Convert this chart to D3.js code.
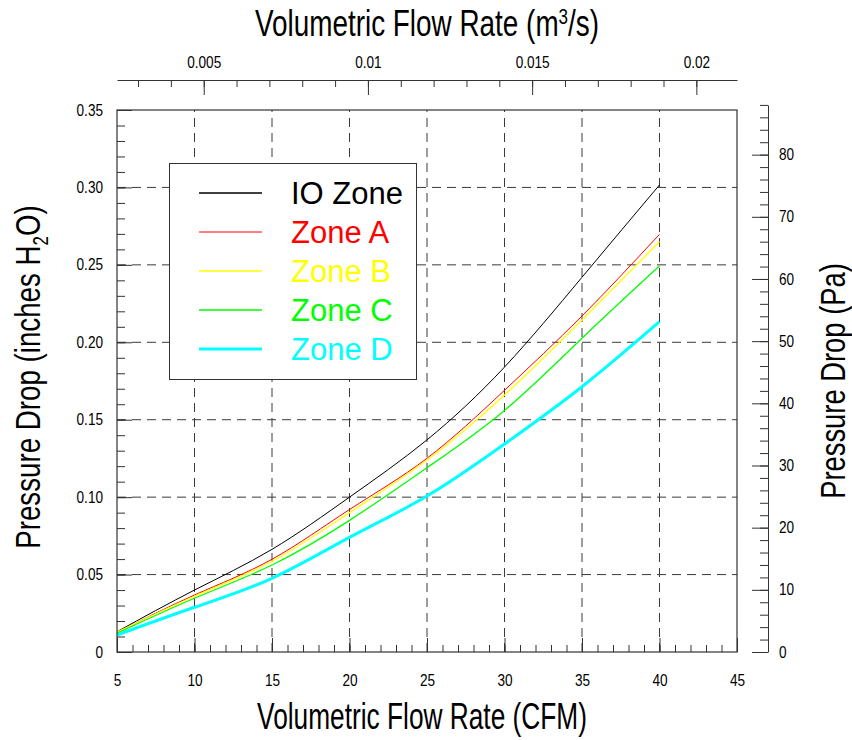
<!DOCTYPE html>
<html>
<head>
<meta charset="utf-8">
<script src="https://cdn.jsdelivr.net/npm/d3@7"></script>
<style>
  html, body { margin: 0; padding: 0; background: #fff; }
  svg { display: block; }
  text { font-family: "Liberation Sans", Arial, sans-serif; }
</style>
</head>
<body>
<svg id="chart" width="852" height="740"></svg>
<script>
// ---------------- data ----------------
const flowCFM = [5, 10, 15, 20, 25, 30, 35, 40];
const ioZone  = [0.0131, 0.0400, 0.0663, 0.1000, 0.1370, 0.1840, 0.2420, 0.3016];
const zoneA   = [0.0125, 0.0368, 0.0599, 0.0920, 0.1251, 0.1690, 0.2170, 0.2697];
const zoneB   = [0.0128, 0.0360, 0.0586, 0.0900, 0.1240, 0.1660, 0.2144, 0.2650];
const zoneC   = [0.0121, 0.0347, 0.0562, 0.0850, 0.1190, 0.1560, 0.2026, 0.2493];
const zoneD   = [0.0110, 0.0289, 0.0476, 0.0740, 0.1007, 0.1343, 0.1713, 0.2133];

const seriesNames  = ["IO Zone", "Zone A", "Zone B", "Zone C", "Zone D"];
const seriesColors = ["#000000", "#ff0000", "#ffff00", "#00ff00", "#00ffff"];
const seriesWidths = [1, 1, 1.3, 1.3, 3];

const xTickValues   = [5, 10, 15, 20, 25, 30, 35, 40, 45];
const yTickValues   = [0, 0.05, 0.10, 0.15, 0.20, 0.25, 0.30, 0.35];
const yTickLabels   = ["0", "0.05", "0.10", "0.15", "0.20", "0.25", "0.30", "0.35"];
const paTickValues  = [0, 10, 20, 30, 40, 50, 60, 70, 80];
const topTickValues = [0.005, 0.010, 0.015, 0.020];
const topTickLabels = ["0.005", "0.01", "0.015", "0.02"];

const CFM_TO_M3S = 0.000471947;
const INH2O_TO_PA = 249.089;

// ---------------- layout ----------------
const svg = d3.select("#chart");
const L = 117, R = 737, T = 110, B = 652;

const x = d3.scaleLinear().domain([5, 45]).range([L, R]);
const y = d3.scaleLinear().domain([0, 0.35]).range([B, T]);
const yPa = d3.scaleLinear().domain([0, 88]).range([B, y(88 / INH2O_TO_PA)]);
const xTop = d3.scaleLinear().domain([5 * CFM_TO_M3S, 45 * CFM_TO_M3S]).range([L, R]);

const frameColor = "#333";
const labelScale = 0.85;
const labelSize = 16;

function condenseLabels(sel, sx) {
  sel.selectAll("text").each(function () {
    const t = d3.select(this);
    const tx = +t.attr("x") || 0, ty = +t.attr("y") || 0;
    t.attr("x", 0).attr("y", 0)
     .attr("transform", `translate(${tx},${ty}) scale(${sx},1)`);
  });
}
function styleLabels(g) {
  g.selectAll("text").attr("font-size", labelSize).attr("fill", "#000")
    .attr("font-family", "Liberation Sans, Arial, sans-serif");
}

// ---------------- grid ----------------
const grid = svg.append("g").attr("stroke", "#3a3a3a").attr("stroke-width", 1)
  .attr("stroke-dasharray", "9,6");
grid.selectAll("line.v").data(xTickValues.filter(v => v > 5 && v < 45)).join("line")
  .attr("x1", d => x(d)).attr("x2", d => x(d)).attr("y1", B).attr("y2", T);
grid.selectAll("line.h").data(yTickValues.filter(v => v > 0 && v < 0.35)).join("line")
  .attr("x1", L).attr("x2", R).attr("y1", d => y(d)).attr("y2", d => y(d));

// ---------------- legend ----------------
const legend = svg.append("g");
legend.append("rect").attr("x", 169.5).attr("y", 163.5).attr("width", 247).attr("height", 216)
  .attr("fill", "#fff").attr("stroke", frameColor).attr("stroke-width", 1);
seriesNames.forEach((name, i) => {
  const ly = 193 + i * 39;
  legend.append("line").attr("x1", 199).attr("x2", 262).attr("y1", ly).attr("y2", ly)
    .attr("stroke", seriesColors[i]).attr("stroke-width", i === 0 ? 1.4 : seriesWidths[i]);
  legend.append("text").attr("x", 291).attr("y", ly + 11)
    .attr("font-size", 31).attr("fill", seriesColors[i]).text(name);
});

// ---------------- curves ----------------
const allSeries = [ioZone, zoneA, zoneB, zoneC, zoneD];
const line = d3.line().x((d, i) => x(flowCFM[i])).y(d => y(d)).curve(d3.curveNatural);
svg.append("g").selectAll("path").data(allSeries).join("path")
  .attr("d", d => line(d)).attr("fill", "none")
  .attr("stroke", (d, i) => seriesColors[i]).attr("stroke-width", (d, i) => seriesWidths[i]);

// ---------------- axes ----------------
// bottom minor ticks
svg.append("g").attr("transform", `translate(0,${B})`)
  .call(d3.axisBottom(x).tickValues(d3.range(5, 46, 1)).tickSize(-7).tickFormat(""))
  .call(g => g.select(".domain").remove())
  .call(g => g.selectAll("line").attr("stroke", frameColor));
// bottom major ticks + labels
const bottomAxis = svg.append("g").attr("transform", `translate(0,${B})`)
  .call(d3.axisBottom(x).tickValues(xTickValues).tickSize(-14).tickPadding(23).tickFormat(d3.format("d")))
  .call(g => g.select(".domain").remove())
  .call(g => g.selectAll("line").attr("stroke", frameColor))
  .call(styleLabels);
condenseLabels(bottomAxis, labelScale);

// left minor ticks
svg.append("g").attr("transform", `translate(${L},0)`)
  .call(d3.axisLeft(y).tickValues(d3.range(0, 0.351, 0.01)).tickSize(-8).tickFormat(""))
  .call(g => g.select(".domain").remove())
  .call(g => g.selectAll("line").attr("stroke", frameColor));
// left major ticks + labels
const leftAxis = svg.append("g").attr("transform", `translate(${L},0)`)
  .call(d3.axisLeft(y).tickValues(yTickValues).tickSize(-15).tickPadding(14)
    .tickFormat((d, i) => yTickLabels[i]))
  .call(g => g.select(".domain").remove())
  .call(g => g.selectAll("line").attr("stroke", frameColor))
  .call(styleLabels);
condenseLabels(leftAxis, labelScale);

// right (Pa) axis
const PA_X = 768;
svg.append("g").attr("transform", `translate(${PA_X},0)`)
  .call(d3.axisRight(yPa).tickValues(d3.range(0, 89, 2)).tickSizeInner(-8).tickSizeOuter(0).tickFormat(""))
  .call(g => g.selectAll("line, path").attr("stroke", frameColor));
const rightAxis = svg.append("g").attr("transform", `translate(${PA_X},0)`)
  .call(d3.axisRight(yPa).tickValues(paTickValues).tickSizeInner(-16).tickSizeOuter(0).tickPadding(11)
    .tickFormat(d3.format("d")))
  .call(g => g.select(".domain").remove())
  .call(g => g.selectAll("line").attr("stroke", frameColor))
  .call(styleLabels);
condenseLabels(rightAxis, labelScale);

// top (m3/s) axis
const TOP_Y = 80;
svg.append("g").attr("transform", `translate(0,${TOP_Y})`)
  .call(d3.axisTop(xTop).tickValues(d3.range(3, 21, 1).map(v => v / 1000)).tickSizeInner(-7).tickSizeOuter(0).tickFormat(""))
  .call(g => g.selectAll("line, path").attr("stroke", frameColor));
const topAxis = svg.append("g").attr("transform", `translate(0,${TOP_Y})`)
  .call(d3.axisTop(xTop).tickValues(topTickValues).tickSizeInner(-15).tickSizeOuter(0).tickPadding(12)
    .tickFormat((d, i) => topTickLabels[i]))
  .call(g => g.select(".domain").remove())
  .call(g => g.selectAll("line").attr("stroke", frameColor))
  .call(styleLabels);
condenseLabels(topAxis, labelScale);

// ---------------- frame ----------------
svg.append("rect").attr("x", L).attr("y", T).attr("width", R - L).attr("height", B - T)
  .attr("fill", "none").attr("stroke", frameColor).attr("stroke-width", 1.2);

// ---------------- titles ----------------
const titleSize = 36;
// bottom
svg.append("text").attr("transform", `translate(422,729) scale(0.73,1)`)
  .attr("text-anchor", "middle").attr("font-size", titleSize).attr("fill", "#000")
  .text("Volumetric Flow Rate (CFM)");
// top
const tt = svg.append("text").attr("transform", `translate(427,36) scale(0.775,1)`)
  .attr("text-anchor", "middle").attr("font-size", titleSize).attr("fill", "#000");
tt.append("tspan").text("Volumetric Flow Rate (m");
tt.append("tspan").attr("font-size", 22).attr("dy", -12).text("3");
tt.append("tspan").attr("dy", 12).text("/s)");
// left
const lt = svg.append("text").attr("transform", `translate(40,377) rotate(-90) scale(0.77,1)`)
  .attr("text-anchor", "middle").attr("font-size", titleSize).attr("fill", "#000");
lt.append("tspan").text("Pressure Drop (inches H");
lt.append("tspan").attr("font-size", 22).attr("dy", 8).text("2");
lt.append("tspan").attr("dy", -8).text("O)");
// right
svg.append("text").attr("transform", `translate(845,381) rotate(-90) scale(0.76,1)`)
  .attr("text-anchor", "middle").attr("font-size", titleSize).attr("fill", "#000")
  .text("Pressure Drop (Pa)");
</script>
</body>
</html>
